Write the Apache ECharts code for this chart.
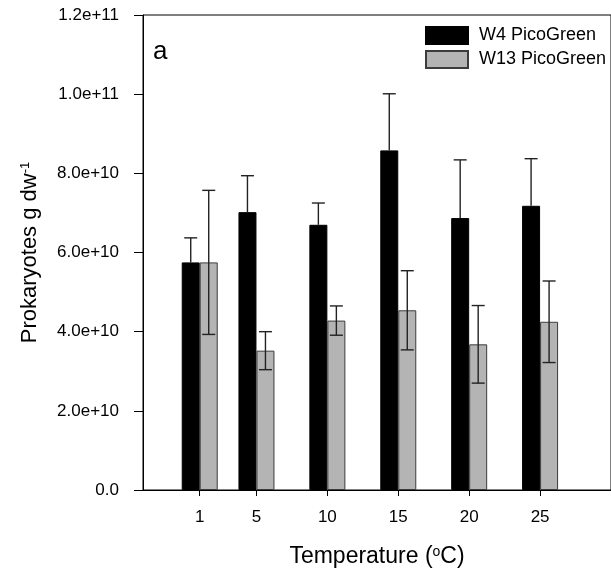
<!DOCTYPE html>
<html>
<head>
<meta charset="utf-8">
<script src="https://cdn.jsdelivr.net/npm/echarts@6/dist/echarts.min.js"></script>
<style>
  html, body { margin: 0; padding: 0; background: #fff; }
  #chart { width: 611px; height: 580px; }
</style>
</head>
<body>
<div id="chart"></div>
<script>
const temperatures = [1, 5, 10, 15, 20, 25];
const w4Values = [5.75e10, 7.02e10, 6.70e10, 8.58e10, 6.87e10, 7.18e10];
const w4Errors = [0.62e10, 0.92e10, 0.55e10, 1.43e10, 1.47e10, 1.19e10];
const w13Values = [5.75e10, 3.52e10, 4.28e10, 4.54e10, 3.68e10, 4.25e10];
const w13Errors = [1.82e10, 0.48e10, 0.37e10, 1.00e10, 0.98e10, 1.03e10];

const FONT = 'Liberation Sans, Arial, sans-serif';
const BAR_WIDTH = 18;

function errorData(values, errors) {
  return temperatures.map((t, i) => [t, values[i] - errors[i], values[i] + errors[i], values[i]]);
}

// error bars beside the tick, shifted by half a bar; upperOnly hides the part inside a black bar
function errorRenderer(shift, upperOnly) {
  return function (params, api) {
    const top = api.coord([api.value(0), api.value(2)]);
    const bottom = api.coord([api.value(0), upperOnly ? api.value(3) : api.value(1)]);
    const x = top[0] + shift;
    const style = { stroke: '#222', lineWidth: 1.4 };
    const children = [
      { type: 'line', shape: { x1: x, y1: top[1], x2: x, y2: bottom[1] }, style },
      { type: 'line', shape: { x1: x - 6.5, y1: top[1], x2: x + 6.5, y2: top[1] }, style },
    ];
    if (!upperOnly) {
      children.push({ type: 'line', shape: { x1: x - 6.5, y1: bottom[1], x2: x + 6.5, y2: bottom[1] }, style });
    }
    return { type: 'group', children };
  };
}

const chart = echarts.init(document.getElementById('chart'));
chart.setOption({
  animation: false,
  textStyle: { fontFamily: FONT },
  title: {
    text: 'a',
    left: 148,
    top: 34,
    padding: 5,
    textStyle: { fontFamily: FONT, fontSize: 26, fontWeight: 'normal', color: '#000' },
  },
  legend: {
    orient: 'vertical',
    left: 425,
    top: 26,
    padding: 0,
    icon: 'rect',
    itemWidth: 42,
    itemHeight: 17,
    itemGap: 5,
    data: ['W4 PicoGreen', 'W13 PicoGreen'],
    textStyle: { fontFamily: FONT, fontSize: 18, color: '#000', padding: [0, 0, 0, 6] },
  },
  grid: {
    left: 143,
    top: 15,
    right: -7,
    bottom: 90,
    show: true,
    borderColor: '#000',
    borderWidth: 1,
    backgroundColor: 'transparent',
  },
  xAxis: {
    type: 'value',
    min: -3,
    max: 30,
    name: '{n|Temperature (}{s|o}{n|C)}',
    nameLocation: 'middle',
    nameGap: 55,
    nameTextStyle: {
      rich: {
        n: { fontFamily: FONT, fontSize: 23, color: '#000' },
        s: { fontFamily: FONT, fontSize: 14, color: '#000', verticalAlign: 'top' },
      },
    },
    splitLine: { show: false },
    axisLine: { onZero: false, lineStyle: { color: '#000', width: 1 } },
    axisTick: { customValues: temperatures, length: 6, lineStyle: { color: '#000' } },
    axisLabel: {
      customValues: temperatures,
      margin: 19,
      fontFamily: FONT,
      fontSize: 17,
      color: '#000',
    },
  },
  yAxis: {
    type: 'value',
    min: 0,
    max: 1.2e11,
    interval: 2e10,
    name: '{n|Prokaryotes g dw}{s|-1}',
    nameLocation: 'middle',
    nameGap: 102,
    nameTextStyle: {
      rich: {
        n: { fontFamily: FONT, fontSize: 22, color: '#000' },
        s: { fontFamily: FONT, fontSize: 13, color: '#000', verticalAlign: 'top' },
      },
    },
    splitLine: { show: false },
    axisLine: { show: true, onZero: false, lineStyle: { color: '#000', width: 1 } },
    axisTick: { show: true, length: 9, lineStyle: { color: '#000' } },
    axisLabel: {
      margin: 24,
      fontFamily: FONT,
      fontSize: 17,
      color: '#000',
      formatter: (v) => (v === 0 ? '0.0' : v.toExponential(1)),
    },
  },
  series: [
    {
      name: 'W4 PicoGreen',
      type: 'bar',
      barWidth: BAR_WIDTH,
      barGap: '0%',
      itemStyle: { color: '#000', borderColor: '#000', borderWidth: 1 },
      data: temperatures.map((t, i) => [t, w4Values[i]]),
    },
    {
      name: 'W13 PicoGreen',
      type: 'bar',
      barWidth: BAR_WIDTH,
      barGap: '0%',
      itemStyle: { color: '#b4b4b4', borderColor: '#3c3c3c', borderWidth: 1 },
      data: temperatures.map((t, i) => [t, w13Values[i]]),
    },
    {
      type: 'custom',
      renderItem: errorRenderer(-BAR_WIDTH / 2, true),
      data: errorData(w4Values, w4Errors),
      z: 5,
    },
    {
      type: 'custom',
      renderItem: errorRenderer(BAR_WIDTH / 2, false),
      data: errorData(w13Values, w13Errors),
      z: 5,
    },
  ],
});
</script>
</body>
</html>
